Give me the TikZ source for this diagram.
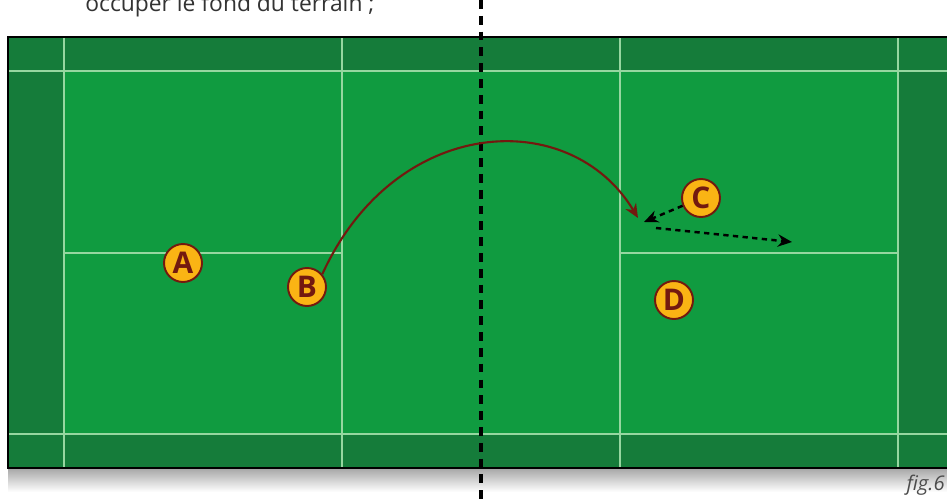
\documentclass[tikz,border=0pt]{standalone}
\usepackage{fontspec}
\setmainfont{Open Sans}
\usetikzlibrary{arrows.meta, positioning}
\definecolor{courtgreen}{RGB}{16,155,64}
\definecolor{alleygreen}{RGB}{21,124,58}
\definecolor{courtline}{RGB}{150,215,160}
\definecolor{playerfill}{RGB}{250,180,20}
\definecolor{playerred}{RGB}{115,25,15}

\begin{document}
\begin{tikzpicture}[x=0.02cm, y=-0.02cm,
    player/.style={draw=playerred, line width=1.1pt, circle, fill=playerfill, minimum size=0.76cm, inner sep=0pt, text=playerred, font=\fontsize{17}{17}\selectfont\bfseries},
    shuttle/.style={draw=playerred, line width=1.2pt, -{Stealth[length=8pt, width=7pt]}},
    run/.style={draw=black, line width=1.4pt, dash pattern=on 3pt off 2.5pt, -{Stealth[length=8pt, width=7pt]}}]
    \clip (0,0) rectangle (947,500);
    \fill[white] (0,0) rectangle (947,500);
    % court
    \shade[top color=black!35, bottom color=white] (8,468) rectangle (947,492);
    \fill[alleygreen] (8,37) rectangle (960,468);
    \fill[courtgreen] (64,71) rectangle (898,434);
    \draw[courtline, line width=0.6pt] (8,71) -- (947,71) (8,434) -- (947,434);
    \draw[courtline, line width=0.6pt] (64,37) -- (64,468) (342,37) -- (342,468) (620,37) -- (620,468) (898,37) -- (898,468);
    \draw[courtline, line width=0.6pt] (64,253) -- (342,253) (620,253) -- (898,253);
    \draw[black, line width=1.6pt] (960,37) -- (8,37) -- (8,468) -- (960,468);
    % net
    \draw[black, line width=1.8pt, dash pattern=on 5pt off 4pt] (481,0) -- (481,500);
    % texts
    \node[anchor=base west, inner sep=0pt, font=\fontsize{13}{14}\selectfont, text=black!80] (caption) at (85,12) {occuper le fond du terrain ;};
    \node[anchor=base east, inner sep=0pt, font=\fontsize{11.5}{12}\selectfont\itshape, text=black!70] (fig) at (945,490) {fig.6};
    % players
    \node[player] (A) at (183,263) {A};
    \node[player] (B) at (307,287) {B};
    \node[player] (C) at (701,198) {C};
    \node[player] (D) at (674,300) {D};
    \coordinate (land) at (638,218);
    \coordinate (catch) at (644,222);
    \coordinate (rundepart) at (656,228);
    \coordinate (deep) at (792,242);
    \draw[shuttle] (B.40) .. controls (395,115) and (570,105) .. (land);
    \draw[run] (C) -- (catch);
    \draw[run] (rundepart) -- (deep);
\end{tikzpicture}
\end{document}
